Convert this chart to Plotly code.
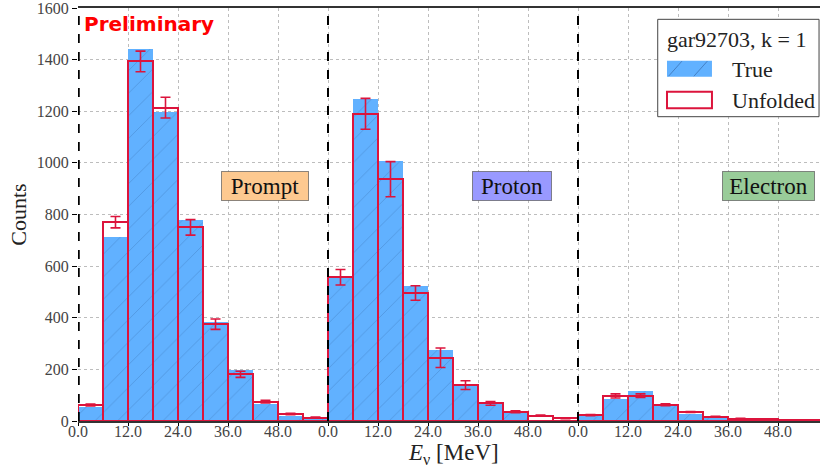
import plotly.graph_objects as go

# ---- data (bin index 0..29; three groups of ten 6-MeV bins) ----
bin_centers = [i + 0.5 for i in range(30)]
true_counts = [53, 714, 1442, 1196, 779, 384, 196, 65, 21, 8,
               555, 1249, 1006, 523, 274, 135, 64, 36, 3, 2,
               19, 85, 116, 57, 28, 12, 5, 3, 2, 1]
unfolded_counts = [62, 770, 1393, 1214, 750, 375, 181, 75, 27, 13,
                   557, 1190, 937, 496, 245, 139, 68, 36, 21, 10,
                   23, 97, 98, 63, 35, 17, 9, 6, 4, 3]
unfolded_err = [4, 22, 40, 40, 30, 20, 12, 5, 3, 2,
                30, 60, 68, 28, 38, 17, 7, 4, 2, 1,
                2, 8, 7, 4, 2, 1, 1, 1, 1, 1]
tick_vals = [0, 2, 4, 6, 8, 10, 12, 14, 16, 18, 20, 22, 24, 26, 28]
tick_text = ["0.0", "12.0", "24.0", "36.0", "48.0"] * 3
y_ticks = [0, 200, 400, 600, 800, 1000, 1200, 1400, 1600]
group_labels = ["Prompt", "Proton", "Electron"]
group_label_x = [7.48, 17.36, 27.6]
group_label_w = [84, 76, 89]
group_label_colors = ["#fdc990", "#9999ff", "#99cc99"]
group_edges = [0, 10, 20]
legend_title = "gar92703, k = 1"
legend_names = ["True", "Unfolded"]

BLUE = "#61b1ff"
RED = "#dc143c"
SERIF = "Liberation Serif, DejaVu Serif, serif"
HATCH = "rgba(40,80,140,0.5)"

fig = go.Figure()
fig.add_trace(go.Bar(
    x=bin_centers, y=true_counts, width=1, name=legend_names[0], showlegend=False,
    marker=dict(color=BLUE, line=dict(width=0),
                pattern=dict(shape="/", fillmode="overlay",
                             fgcolor=HATCH, size=16, solidity=0.06)),
))
fig.add_trace(go.Bar(
    x=bin_centers, y=unfolded_counts, width=1, name=legend_names[1], showlegend=False,
    marker=dict(color="rgba(0,0,0,0)", line=dict(color=RED, width=2)),
    error_y=dict(type="data", array=unfolded_err, color=RED, thickness=1.6, width=5),
))

shapes = []
for e in group_edges:
    xe = e + 0.03 if e == 0 else e
    shapes.append(dict(type="line", xref="x", yref="paper", x0=xe, x1=xe, y0=0, y1=1,
                       line=dict(color="black", width=2, dash="dash"), layer="above"))

# legend drawn as a boxed key (paper coords of the plot area)
shapes.append(dict(type="rect", xref="paper", yref="paper", x0=0.7813, x1=0.9987,
                   y0=0.7368, y1=0.9726, fillcolor="white", line=dict(color="#444", width=1),
                   layer="above"))
shapes.append(dict(type="rect", xref="paper", yref="paper", x0=0.7938, x1=0.8544,
                   y0=0.8337, y1=0.8724, fillcolor=BLUE, line=dict(width=0), layer="above"))
shapes.append(dict(type="line", xref="paper", yref="paper", x0=0.7958, x1=0.8140,
                   y0=0.8347, y1=0.8714, line=dict(color=HATCH, width=1), layer="above"))
shapes.append(dict(type="line", xref="paper", yref="paper", x0=0.8300, x1=0.8482,
                   y0=0.8347, y1=0.8714, line=dict(color=HATCH, width=1), layer="above"))
shapes.append(dict(type="rect", xref="paper", yref="paper", x0=0.7938, x1=0.8544,
                   y0=0.7571, y1=0.7973, fillcolor="white", line=dict(color=RED, width=2),
                   layer="above"))

annotations = [dict(text="<b>Preliminary</b>", x=0.005, y=0.994, xref="paper", yref="paper",
                    xanchor="left", yanchor="top", showarrow=False,
                    font=dict(family="DejaVu Sans, sans-serif", size=20, color="red"))]
for lab, lx, lw, col in zip(group_labels, group_label_x, group_label_w, group_label_colors):
    annotations.append(dict(text=lab, x=lx, y=911, xref="x", yref="y", showarrow=False,
                            xanchor="center", yanchor="middle",
                            width=lw, height=26, align="center",
                            font=dict(family=SERIF, size=23, color="#111"),
                            bgcolor=col, bordercolor="rgba(90,90,90,0.7)", borderwidth=1,
                            borderpad=1))
annotations.append(dict(text=legend_title, x=0.8881, y=0.9249, xref="paper", yref="paper",
                        xanchor="center", yanchor="middle", showarrow=False,
                        font=dict(family=SERIF, size=22, color="#222")))
annotations.append(dict(text=legend_names[0], x=0.8787, y=0.8523, xref="paper", yref="paper",
                        xanchor="left", yanchor="middle", showarrow=False,
                        font=dict(family=SERIF, size=22, color="#222")))
annotations.append(dict(text=legend_names[1], x=0.8787, y=0.7772, xref="paper", yref="paper",
                        xanchor="left", yanchor="middle", showarrow=False,
                        font=dict(family=SERIF, size=22, color="#222")))
# x-axis title (centred on the full 30-bin axis, as in the reference)
annotations.append(dict(text="<i>E</i><sub>ν</sub> [MeV]", x=15, y=-0.081, xref="x",
                        yref="paper", xanchor="center", yanchor="middle", showarrow=False,
                        font=dict(family=SERIF, size=23, color="#222")))

fig.update_layout(
    width=820, height=468,
    margin=dict(l=78, r=0, t=8, b=47),
    paper_bgcolor="white", plot_bgcolor="white",
    barmode="overlay", bargap=0,
    font=dict(family=SERIF, color="#333"),
    shapes=shapes, annotations=annotations,
    showlegend=False,
    xaxis=dict(range=[0, 29.68], tickvals=tick_vals, ticktext=tick_text, automargin=False,
               showgrid=True, gridcolor="#bdbdbd", griddash="dot", gridwidth=1,
               showline=True, linecolor="#333", linewidth=1.5, mirror=True,
               ticks="outside", ticklen=3, tickcolor="black", ticklabelstandoff=-8,
               tickfont=dict(family=SERIF, size=16, color="#444"),
               zeroline=False),
    yaxis=dict(range=[0, 1600], tickvals=y_ticks, automargin=False,
               ticklabeloverflow="allow",
               showgrid=True, gridcolor="#bdbdbd", griddash="dot", gridwidth=1,
               showline=False, ticks="outside", ticklen=5, tickcolor="black",
               tickfont=dict(family=SERIF, size=16, color="#444"),
               title=dict(text="Counts", standoff=4,
                          font=dict(family=SERIF, size=22, color="#222")),
               zeroline=False),
)

fig.write_html("out.html", config={"displayModeBar": False},
               post_script="document.body.style.margin='0px';")
